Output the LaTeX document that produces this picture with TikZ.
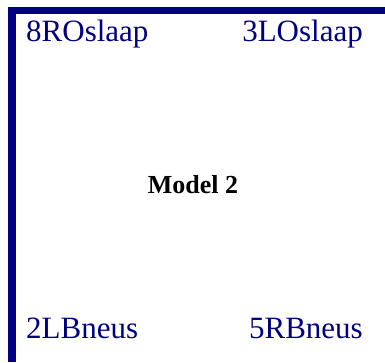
\documentclass[tikz,border=0pt]{standalone}
\usepackage{fontspec}
\setmainfont{Liberation Serif}
\definecolor{navyblue}{RGB}{0,0,128}
\begin{document}
\begin{tikzpicture}[x=1pt,y=-1pt,
  lbl/.style={text=navyblue,font=\fontsize{31}{35}\selectfont,inner sep=0pt,anchor=base west},
  title/.style={font=\fontsize{26}{30}\selectfont\bfseries,inner sep=0pt,anchor=base}]
\useasboundingbox (0,0) rectangle (385,362);
\fill[navyblue] (8,7) rectangle (385,14);
\fill[navyblue] (8,7) rectangle (16,362);
\node[lbl] (a) at (26,41) {8ROslaap};
\node[lbl,anchor=base east] (b) at (363,41) {3LOslaap};
\node[title] (m) at (193,193) {Model 2};
\node[lbl] (c) at (26,338) {2LBneus};
\node[lbl,anchor=base east] (d) at (363,338) {5RBneus};
\end{tikzpicture}
\end{document}
